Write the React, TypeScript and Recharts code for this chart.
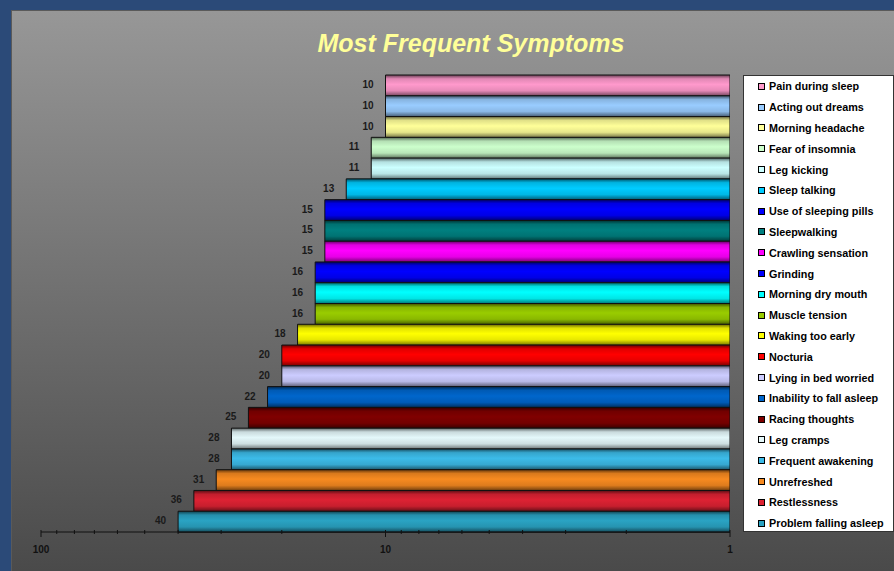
import React from 'react';
import { BarChart, Bar, XAxis, YAxis, Cell, Legend, LabelList } from 'recharts';

const categories = [
  'Pain during sleep',
  'Acting out dreams',
  'Morning headache',
  'Fear of insomnia',
  'Leg kicking',
  'Sleep talking',
  'Use of sleeping pills',
  'Sleepwalking',
  'Crawling sensation',
  'Grinding',
  'Morning dry mouth',
  'Muscle tension',
  'Waking too early',
  'Nocturia',
  'Lying in bed worried',
  'Inability to fall asleep',
  'Racing thoughts',
  'Leg cramps',
  'Frequent awakening',
  'Unrefreshed',
  'Restlessness',
  'Problem falling asleep',
];

const values = [10, 10, 10, 11, 11, 13, 15, 15, 15, 16, 16, 16, 18, 20, 20, 22, 25, 28, 28, 31, 36, 40];

const colors = [
  '#ff99cc',
  '#99ccff',
  '#ffff99',
  '#ccffcc',
  '#ccffff',
  '#00ccff',
  '#0000ff',
  '#008080',
  '#ff00ff',
  '#0000ff',
  '#00ffff',
  '#99cc00',
  '#ffff00',
  '#ff0000',
  '#ccccff',
  '#0066cc',
  '#800000',
  '#e4f8fa',
  '#3cbbe8',
  '#f78a20',
  '#dd2233',
  '#2aa3c3',
];

const axisTicks = [1, 2, 3, 4, 5, 6, 7, 8, 9, 10, 20, 30, 40, 50, 60, 70, 80, 90, 100];
const labelledTicks = [1, 10, 100];

const TITLE = 'Most Frequent Symptoms';

const data = categories.map((name, i) => ({ name, value: values[i] }));

function shade(hex: string, f: number): string {
  const n = parseInt(hex.slice(1), 16);
  const r = Math.round(((n >> 16) & 255) * f);
  const g = Math.round(((n >> 8) & 255) * f);
  const b = Math.round((n & 255) * f);
  const c = (v: number) => Math.max(0, Math.min(255, v)).toString(16).padStart(2, '0');
  return '#' + c(r) + c(g) + c(b);
}

const AxisTick = (props: any) => {
  const { x, y, payload } = props;
  const v = payload.value;
  const major = labelledTicks.includes(v);
  return (
    <g>
      <line x1={x} x2={x} y1={y - 4} y2={major ? y + 3 : y} stroke="#111" strokeWidth={1} />
      {major && (
        <text
          x={x}
          y={y + 19}
          textAnchor="middle"
          fontFamily="'Liberation Sans', Arial, sans-serif"
          fontWeight="bold"
          fontSize={10}
          fill="#111"
        >
          {String(v)}
        </text>
      )}
    </g>
  );
};

const renderValueLabel = (props: any) => {
  const vb = props.viewBox || {};
  const x = props.x ?? vb.x;
  const y = props.y ?? vb.y;
  const width = props.width ?? vb.width;
  const height = props.height ?? vb.height;
  const left = Math.min(x, x + width);
  return (
    <text
      x={left - 12}
      y={y + height / 2 - 1}
      textAnchor="end"
      dominantBaseline="central"
      fontFamily="'Liberation Sans', Arial, sans-serif"
      fontWeight="bold"
      fontSize={10}
      fill="#1a1a1a"
    >
      {props.value}
    </text>
  );
};

const renderLegend = () => (
  <div
    style={{
      width: 151,
      height: 457,
      boxSizing: 'border-box',
      background: '#ffffff',
      border: '1px solid #333',
      paddingLeft: 14,
      fontFamily: "'Liberation Sans', Arial, sans-serif",
    }}
  >
    {categories.map((name, i) => (
      <div key={name} style={{ height: 20.8, display: 'flex', alignItems: 'center' }}>
        <span
          style={{
            display: 'inline-block',
            width: 7,
            height: 7,
            boxSizing: 'border-box',
            border: '1px solid #000',
            background: colors[i],
            marginRight: 4,
          }}
        />
        <span style={{ fontSize: 10.8, fontWeight: 'bold', color: '#000', whiteSpace: 'nowrap' }}>{name}</span>
      </div>
    ))}
  </div>
);

export default function App() {
  return (
    <div style={{ position: 'absolute', left: 0, top: 0, width: 894, height: 571, background: '#2b4a78', overflow: 'hidden' }}>
      <div
        style={{
          position: 'absolute',
          left: 11,
          top: 10,
          width: 894 - 11,
          height: 571 - 10,
          background: 'linear-gradient(to bottom, #979797, #4a4a4a)',
          borderTop: '1px solid #5a5a5a',
          borderLeft: '1px solid #5a5a5a',
          boxSizing: 'border-box',
        }}
      />
      <div
        style={{
          position: 'absolute',
          left: 0,
          width: 942,
          top: 28,
          textAlign: 'center',
          fontFamily: "'Liberation Sans', Arial, sans-serif",
          fontWeight: 'bold',
          fontStyle: 'italic',
          fontSize: 25,
          color: '#ffff99',
          lineHeight: '30px',
        }}
      >
        {TITLE}
      </div>
      <div style={{ position: 'absolute', left: 0, top: 0 }}>
        <BarChart
          width={894}
          height={571}
          data={data}
          layout="vertical"
          margin={{ top: 75, right: 164, bottom: 0, left: 41 }}
          barCategoryGap={0}
        >
          <defs>
            {colors.map((c, i) => (
              <linearGradient key={i} id={`g${i}`} x1="0" y1="0" x2="0" y2="1">
                <stop offset="0%" stopColor={shade(c, 0.4)} />
                <stop offset="18%" stopColor={shade(c, 0.88)} />
                <stop offset="45%" stopColor={c} />
                <stop offset="75%" stopColor={shade(c, 0.9)} />
                <stop offset="100%" stopColor={shade(c, 0.45)} />
              </linearGradient>
            ))}
          </defs>
          <XAxis
            type="number"
            scale="log"
            domain={[1, 100]}
            reversed
            ticks={axisTicks}
            interval={0}
            tickSize={0}
            tickLine={false}
            axisLine={{ stroke: '#111' }}
            height={39}
            tick={<AxisTick />}
            allowDataOverflow
          />
          <XAxis
            xAxisId="top"
            orientation="top"
            type="number"
            scale="log"
            domain={[1, 100]}
            reversed
            height={0}
            tick={false}
            tickLine={false}
            axisLine={{ stroke: '#222' }}
            allowDataOverflow
          />
          <YAxis
            type="category"
            dataKey="name"
            width={0}
            tick={false}
            tickLine={false}
            axisLine={{ stroke: '#111' }}
          />
          <Legend
            layout="vertical"
            align="center"
            verticalAlign="middle"
            content={renderLegend}
            wrapperStyle={{ position: 'absolute', left: 743, top: 75, width: 151, height: 457 }}
          />
          <Bar dataKey="value" isAnimationActive={false} stroke="#111" strokeWidth={1}>
            {data.map((d, i) => (
              <Cell key={d.name} fill={`url(#g${i})`} />
            ))}
            <LabelList dataKey="value" content={renderValueLabel} />
          </Bar>
        </BarChart>
      </div>
    </div>
  );
}
